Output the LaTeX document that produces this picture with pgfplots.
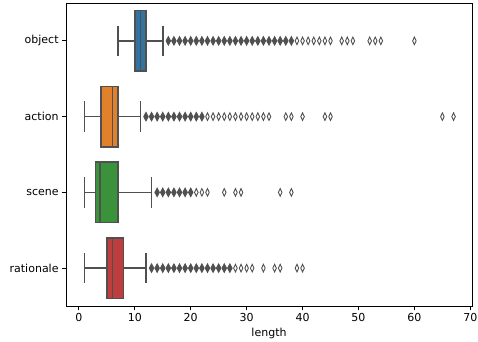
\documentclass[border=0pt]{standalone}
\usepackage{fontspec}
\setmainfont{DejaVu Sans}
\usepackage{pgfplots}
\usepgfplotslibrary{statistics}
\pgfplotsset{compat=1.18}
\definecolor{sbblue}{HTML}{3274A1}
\definecolor{sborange}{HTML}{E1812C}
\definecolor{sbgreen}{HTML}{3A923A}
\definecolor{sbred}{HTML}{C03D3E}
\definecolor{edgegray}{HTML}{505050}

\pgfplotsset{
  flier/.style={
    draw=edgegray, line width=1.6pt,
    mark=diamond, mark size=3.8pt,
    mark options={draw=edgegray, line width=0.9pt, xscale=0.62, solid},
    boxplot/every whisker/.style={draw=edgegray, line width=1.6pt},
    boxplot/every median/.style={draw=edgegray, line width=1.6pt},
  },
  dense/.style={
    only marks, mark=diamond*, mark size=4.2pt,
    mark options={draw=edgegray, fill=edgegray, line width=0.9pt, xscale=0.72},
  },
}

\begin{document}
\begin{tikzpicture}
\begin{axis}[
    scale only axis,
    width=406pt, height=303pt,
    xmin=-2.3, xmax=70.3,
    ymin=-0.5, ymax=3.5,
    y dir=reverse,
    xtick={0,10,...,70},
    ytick={0,1,2,3},
    yticklabels={object,action,scene,rationale},
    tick align=outside,
    xtick pos=bottom, ytick pos=left,
    major tick length=3.9pt,
    tick style={black, line width=0.9pt},
    axis line style={black, line width=0.9pt},
    xlabel={length},
    ticklabel style={font=\fontsize{11}{13}\selectfont},
    label style={font=\fontsize{11}{13}\selectfont},
    /pgf/number format/assume math mode=true,
    boxplot/draw direction=x,
    boxplot/box extend=0.8,
    boxplot/whisker extend=0.4,
]
% object
\addplot[flier, boxplot/every box/.append style={fill=sbblue},
  boxplot prepared={draw position=0, lower whisker=7, lower quartile=10,
    median=11, upper quartile=12, upper whisker=15}]
  table[row sep=\\, y index=0] {
  39\\40\\41\\42\\43\\44\\45\\47\\48\\49\\52\\53\\54\\60\\};
\addplot[dense] coordinates {
  (16,0) (17,0) (18,0) (19,0) (20,0) (21,0) (22,0) (23,0) (24,0) (25,0)
  (26,0) (27,0) (28,0) (29,0) (30,0) (31,0) (32,0) (33,0) (34,0) (35,0)
  (36,0) (37,0) (38,0)};
% action
\addplot[flier, boxplot/every box/.append style={fill=sborange},
  boxplot prepared={draw position=1, lower whisker=1, lower quartile=4,
    median=6, upper quartile=7, upper whisker=11}]
  table[row sep=\\, y index=0] {
  23\\24\\25\\26\\27\\28\\29\\30\\31\\32\\33\\34\\37\\38\\40\\44\\45\\65\\67\\};
\addplot[dense] coordinates {
  (12,1) (13,1) (14,1) (15,1) (16,1) (17,1) (18,1) (19,1) (20,1) (21,1) (22,1)};
% scene
\addplot[flier, boxplot/every box/.append style={fill=sbgreen},
  boxplot prepared={draw position=2, lower whisker=1, lower quartile=3,
    median=3.8, upper quartile=7, upper whisker=13}]
  table[row sep=\\, y index=0] {
  21\\22\\23\\26\\28\\29\\36\\38\\};
\addplot[dense] coordinates {
  (14,2) (15,2) (16,2) (17,2) (18,2) (19,2) (20,2)};
% rationale
\addplot[flier, boxplot/every box/.append style={fill=sbred},
  boxplot prepared={draw position=3, lower whisker=1, lower quartile=5,
    median=6, upper quartile=8, upper whisker=12}]
  table[row sep=\\, y index=0] {
  28\\29\\30\\31\\33\\35\\36\\39\\40\\};
\addplot[dense] coordinates {
  (13,3) (14,3) (15,3) (16,3) (17,3) (18,3) (19,3) (20,3) (21,3) (22,3)
  (23,3) (24,3) (25,3) (26,3) (27,3)};
\end{axis}
\pgfresetboundingbox
\path[use as bounding box] ([shift={(-66pt,-36pt)}]current axis.south west)
  rectangle ([shift={(6pt,3pt)}]current axis.north east);
\end{tikzpicture}
\end{document}
